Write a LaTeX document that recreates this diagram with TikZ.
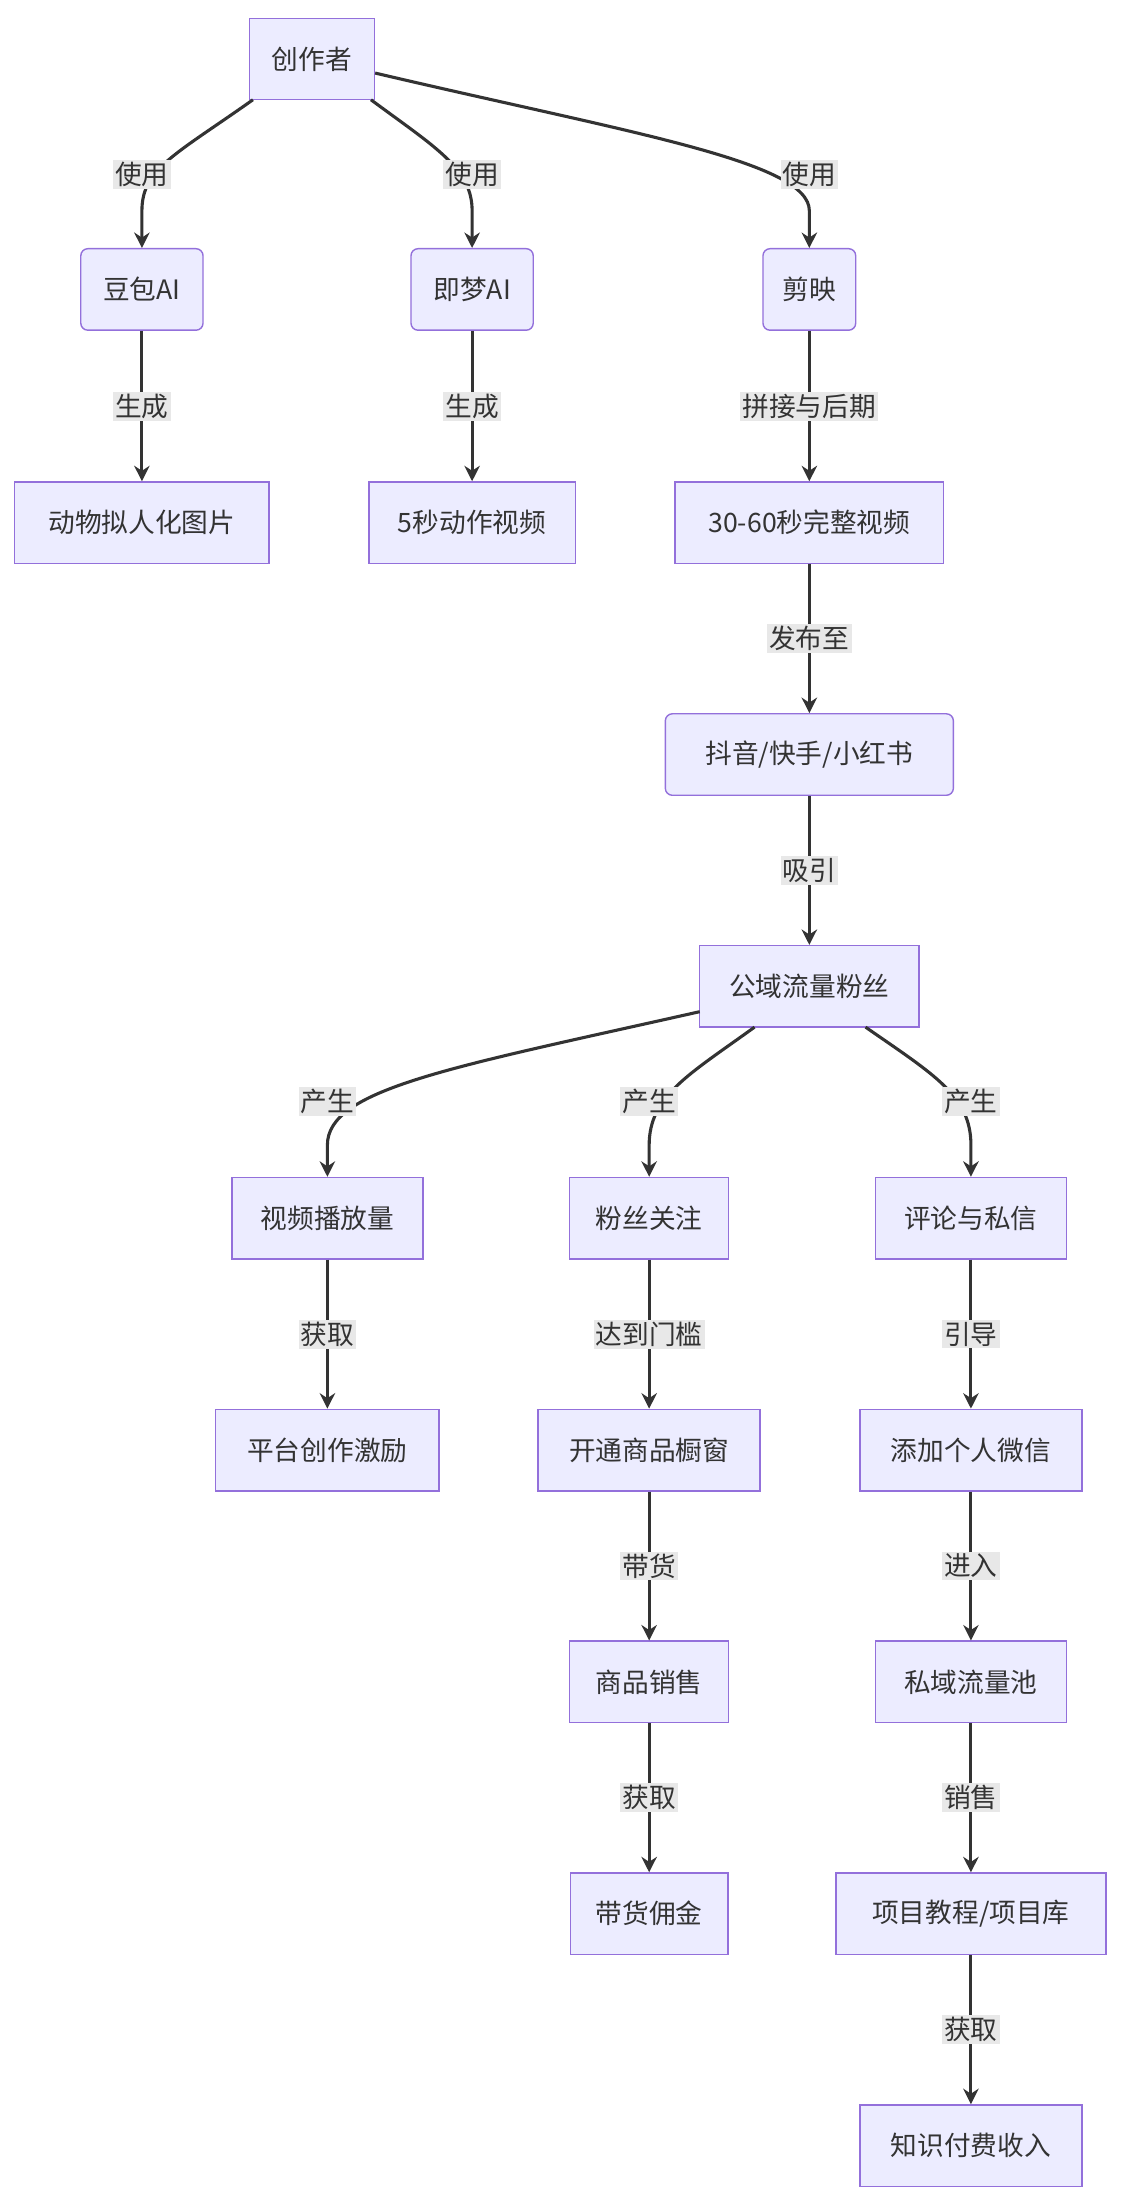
\documentclass[tikz,border=0pt]{standalone}
\usepackage{fontspec}
\setmainfont{Noto Sans CJK SC}
\usetikzlibrary{arrows.meta}
\begin{document}
\begin{tikzpicture}[x=1pt,y=-1pt,
  every node/.style={font=\fontsize{19}{23}\selectfont, text=black!80},
  box/.style={draw=purple!30!violet!60!white, draw={rgb,255:red,147;green,112;blue,219}, fill={rgb,255:red,236;green,236;blue,255}, line width=1pt, minimum height=58pt, inner xsep=10pt, inner ysep=0pt},
  rbox/.style={box, rounded corners=5pt},
  lbl/.style={fill={rgb,255:red,232;green,232;blue,232}, inner sep=1.5pt, text=black!80},
  e/.style={draw={rgb,255:red,51;green,51;blue,51}, line width=2.2pt, -{Stealth[length=11pt,width=11pt]}}]
\useasboundingbox (0,0) rectangle (800,1570);
\node[box,minimum width=89pt] (c) at (222,42) {创作者};
\node[rbox,minimum width=87pt] (d) at (101,206) {豆包AI};
\node[rbox,minimum width=87pt] (j) at (336,206) {即梦AI};
\node[rbox,minimum width=66pt] (y) at (576,206) {剪映};
\node[box,minimum width=181pt] (d2) at (101,372) {动物拟人化图片};
\node[box,minimum width=147pt] (j2) at (336,372) {5秒动作视频};
\node[box,minimum width=191pt] (y2) at (576,372) {30-60秒完整视频};
\node[rbox,minimum width=205pt] (p) at (576,537) {抖音/快手/小红书};
\node[box,minimum width=156pt] (g) at (576,702) {公域流量粉丝};
\node[box,minimum width=136pt] (v) at (233,867) {视频播放量};
\node[box,minimum width=113pt] (f) at (462,867) {粉丝关注};
\node[box,minimum width=136pt] (r) at (691,867) {评论与私信};
\node[box,minimum width=159pt] (v2) at (233,1032) {平台创作激励};
\node[box,minimum width=158pt] (f2) at (462,1032) {开通商品橱窗};
\node[box,minimum width=158pt] (r2) at (691,1032) {添加个人微信};
\node[box,minimum width=113pt] (f3) at (462,1197) {商品销售};
\node[box,minimum width=136pt] (r3) at (691,1197) {私域流量池};
\node[box,minimum width=112pt] (f4) at (462,1362) {带货佣金};
\node[box,minimum width=192pt] (r4) at (691,1362) {项目教程/项目库};
\node[box,minimum width=158pt] (r5) at (691,1527) {知识付费收入};
% top curves
\draw[e] (180,71) .. controls (125,110) and (101,120) .. (101,150) -- (d.north);
\node[lbl] at (101,124) {使用};
\draw[e] (264,71) .. controls (310,105) and (336,120) .. (336,150) -- (j.north);
\node[lbl] at (336,124) {使用};
\draw[e] (267,52) .. controls (450,95) and (576,115) .. (576,150) -- (y.north);
\node[lbl] at (576,124) {使用};
\draw[e] (d) -- node[lbl]{生成} (d2);
\draw[e] (j) -- node[lbl]{生成} (j2);
\draw[e] (y) -- node[lbl]{拼接与后期} (y2);
\draw[e] (y2) -- node[lbl]{发布至} (p);
\draw[e] (p) -- node[lbl]{吸引} (g);
\draw[e] (498,720) .. controls (320,760) and (233,775) .. (233,815) -- (v.north);
\node[lbl] at (233,784) {产生};
\draw[e] (537,731) .. controls (490,765) and (462,780) .. (462,815) -- (f.north);
\node[lbl] at (462,784) {产生};
\draw[e] (616,731) .. controls (665,765) and (691,780) .. (691,815) -- (r.north);
\node[lbl] at (691,784) {产生};
\draw[e] (v) -- node[lbl]{获取} (v2);
\draw[e] (f) -- node[lbl]{达到门槛} (f2);
\draw[e] (r) -- node[lbl]{引导} (r2);
\draw[e] (f2) -- node[lbl]{带货} (f3);
\draw[e] (r2) -- node[lbl]{进入} (r3);
\draw[e] (f3) -- node[lbl]{获取} (f4);
\draw[e] (r3) -- node[lbl]{销售} (r4);
\draw[e] (r4) -- node[lbl]{获取} (r5);
\end{tikzpicture}
\end{document}
